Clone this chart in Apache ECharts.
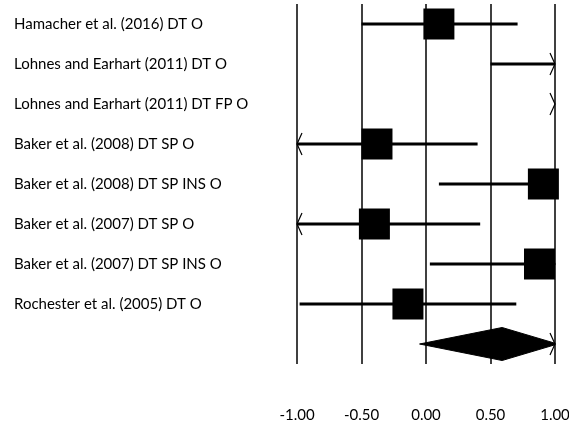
<!DOCTYPE html>
<html>
<head>
<meta charset="utf-8">
<script src="https://cdn.jsdelivr.net/npm/echarts@6/dist/echarts.min.js"></script>
<style>html,body{margin:0;padding:0;background:#fff}#c{width:569px;height:425px}</style>
</head>
<body>
<div id="c"></div>
<script>
// ---- data ----
const studies = [
  'Hamacher et al. (2016) DT O',
  'Lohnes and Earhart (2011) DT O',
  'Lohnes and Earhart (2011) DT FP O',
  'Baker et al. (2008) DT SP O',
  'Baker et al. (2008) DT SP INS O',
  'Baker et al. (2007) DT SP O',
  'Baker et al. (2007) DT SP INS O',
  'Rochester et al. (2005) DT O'
];
const estimates = [0.10, 1.25, 1.70, -0.38, 0.91, -0.40, 0.88, -0.14];
const lowerCI   = [-0.50, 0.50, 1.10, -1.15, 0.10, -1.20, 0.03, -0.98];
const upperCI   = [0.71, 2.00, 2.30, 0.40, 1.72, 0.42, 1.73, 0.70];
const summaryEstimate = 0.59;
const summaryLower = -0.05;
const summaryUpper = 1.02;
const xTicks = [-1.00, -0.50, 0.00, 0.50, 1.00];

// ---- chart ----
const FONT = 'Lato, "Open Sans", sans-serif';
const AX_MIN = xTicks[0], AX_MAX = xTicks[xTicks.length - 1];
const categories = studies.concat(['']);

function chevron(x, y, dir) {
  return {
    type: 'polyline',
    shape: { points: [[x - dir * 5, y - 11], [x, y], [x - dir * 5, y + 11]] },
    style: { stroke: '#000', lineWidth: 1.2, fill: null }
  };
}

const ciData = studies.map((s, i) => [estimates[i], i, lowerCI[i], upperCI[i]]);

function renderCI(params, api) {
  const est = api.value(0), idx = api.value(1), lo = api.value(2), hi = api.value(3);
  const y = api.coord([0, idx])[1];
  const xMinPx = api.coord([AX_MIN, idx])[0];
  const xMaxPx = api.coord([AX_MAX, idx])[0];
  const xl = api.coord([Math.min(Math.max(lo, AX_MIN), AX_MAX), idx])[0];
  const xr = api.coord([Math.min(Math.max(hi, AX_MIN), AX_MAX), idx])[0];
  const children = [];
  if (xr - xl > 0.5) {
    children.push({ type: 'line', shape: { x1: xl, y1: y, x2: xr, y2: y }, style: { stroke: '#000', lineWidth: 3 } });
  }
  if (lo < AX_MIN) children.push(chevron(xMinPx, y, -1));
  if (hi > AX_MAX) children.push(chevron(xMaxPx, y, 1));
  if (est >= AX_MIN && est <= AX_MAX) {
    const xe = api.coord([est, idx])[0];
    const s = 31;
    children.push({ type: 'rect', shape: { x: xe - s / 2, y: y - s / 2, width: s, height: s }, style: { fill: '#000' } });
  }
  return { type: 'group', children: children };
}

function renderDiamond(params, api) {
  const est = api.value(0), idx = api.value(1), lo = api.value(2), hi = api.value(3);
  const y = api.coord([0, idx])[1];
  const xe = api.coord([est, idx])[0];
  const xl = api.coord([Math.max(lo, AX_MIN), idx])[0];
  const xrRaw = api.coord([hi, idx])[0];
  const edge = api.coord([AX_MAX, idx])[0];
  const h = 16.5;
  let pts;
  if (xrRaw > edge) {
    const dy = h * (xrRaw - edge) / (xrRaw - xe);
    pts = [[xl, y], [xe, y - h], [edge, y - dy], [edge, y + dy], [xe, y + h]];
  } else {
    pts = [[xl, y], [xe, y - h], [xrRaw, y], [xe, y + h]];
  }
  const children = [{ type: 'polygon', shape: { points: pts }, style: { fill: '#000', stroke: '#000', lineWidth: 1 } }];
  if (hi > AX_MAX) children.push(chevron(edge, y, 1));
  return { type: 'group', children: children };
}

const chart = echarts.init(document.getElementById('c'), null, { renderer: 'canvas' });
chart.setOption({
  animation: false,
  backgroundColor: '#fff',
  grid: { left: 297, right: 14, top: 4, bottom: 61, containLabel: false, outerBoundsMode: 'none' },
  xAxis: {
    type: 'value', min: AX_MIN, max: AX_MAX, interval: 0.5,
    axisLine: { show: false }, axisTick: { show: false },
    splitLine: { show: true, lineStyle: { color: '#000', width: 1.5 } },
    axisLabel: {
      margin: 44, fontSize: 15, color: '#000', fontFamily: FONT,
      formatter: v => v.toFixed(2)
    }
  },
  yAxis: {
    type: 'category', data: categories, inverse: true,
    axisLine: { show: false }, axisTick: { show: false }, splitLine: { show: false },
    axisLabel: { align: 'left', margin: 283, fontSize: 15, color: '#000', fontFamily: FONT }
  },
  series: [
    { type: 'custom', clip: false, renderItem: renderCI, data: ciData, z: 3 },
    { type: 'custom', clip: false, renderItem: renderDiamond,
      data: [[summaryEstimate, studies.length, summaryLower, summaryUpper]], z: 3 }
  ]
});
</script>
</body>
</html>
